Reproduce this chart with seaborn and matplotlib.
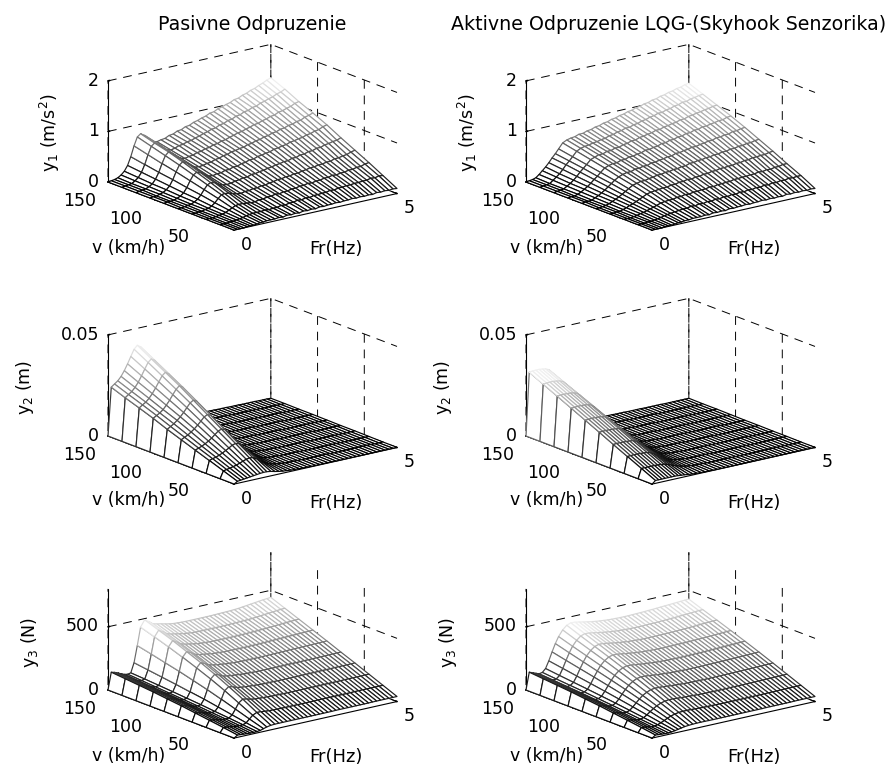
import numpy as np
import matplotlib
matplotlib.use('Agg')
import matplotlib.pyplot as plt
import seaborn as sns
from mpl_toolkits.mplot3d import proj3d

# osi
FR_HZ = [0, .1, .2, .3, .4, .5, .6, .7, .8, .9, 1.0,
         1.125, 1.25, 1.375, 1.5, 1.625, 1.75, 1.875, 2.0,
         2.125, 2.25, 2.375, 2.5, 2.625, 2.75, 2.875, 3.0,
         3.125, 3.25, 3.375, 3.5, 3.625, 3.75, 3.875, 4.0,
         4.125, 4.25, 4.375, 4.5, 4.625, 4.75, 4.875, 5.0]
V_KMH = [150, 135, 120, 105, 90, 75, 60, 45, 30, 15]

# y1 v stotinach m/s2 (riadky = V_KMH, stlpce = FR_HZ)
Y1_PAS = [
    [0, 1, 2, 4, 8, 14, 24, 40, 60, 76, 81, 76, 66, 60, 58, 60, 61, 65, 66, 70, 71, 75, 76, 80, 82, 85, 87, 91, 92, 96, 98, 101, 103, 107, 108, 112, 114, 118, 120, 124, 127, 131, 134],
    [0, 1, 2, 3, 7, 12, 21, 35, 53, 68, 73, 69, 60, 54, 52, 54, 57, 58, 61, 62, 65, 67, 70, 72, 75, 76, 80, 81, 85, 86, 90, 91, 95, 96, 100, 101, 105, 107, 110, 112, 116, 118, 122],
    [0, 1, 2, 3, 6, 10, 18, 30, 46, 60, 66, 61, 53, 48, 46, 48, 49, 52, 53, 56, 57, 60, 61, 64, 65, 68, 70, 73, 74, 77, 79, 82, 83, 86, 88, 91, 92, 96, 97, 100, 102, 106, 108],
    [0, 1, 1, 3, 5, 9, 15, 26, 40, 52, 57, 53, 46, 41, 40, 41, 43, 44, 47, 48, 51, 52, 55, 56, 58, 59, 62, 63, 66, 67, 70, 71, 74, 75, 78, 79, 82, 83, 86, 87, 91, 93, 96],
    [0, 1, 1, 2, 4, 7, 12, 21, 33, 43, 47, 44, 38, 34, 33, 35, 35, 38, 38, 41, 41, 44, 45, 48, 48, 51, 52, 54, 55, 58, 59, 61, 62, 65, 66, 68, 69, 72, 73, 76, 77, 81, 83],
    [0, 0, 1, 2, 3, 6, 10, 17, 26, 34, 37, 35, 30, 27, 26, 27, 29, 30, 32, 32, 35, 35, 37, 38, 40, 41, 43, 44, 46, 46, 49, 49, 52, 52, 55, 55, 58, 58, 61, 62, 64, 65, 68],
    [0, 0, 1, 1, 3, 4, 7, 12, 19, 25, 26, 25, 22, 20, 19, 21, 21, 23, 23, 25, 25, 27, 28, 30, 30, 32, 32, 34, 34, 36, 37, 39, 39, 41, 41, 43, 43, 46, 46, 48, 49, 52, 54],
    [0, 0, 0, 1, 2, 3, 5, 8, 11, 14, 15, 15, 14, 13, 13, 15, 15, 17, 17, 19, 18, 20, 20, 22, 22, 24, 24, 26, 25, 27, 27, 29, 29, 31, 30, 32, 32, 34, 34, 36, 36, 39, 40],
    [0, 0, 0, 1, 1, 2, 3, 4, 6, 7, 8, 8, 8, 9, 8, 9, 9, 11, 10, 12, 12, 14, 13, 15, 14, 16, 16, 17, 17, 19, 18, 20, 20, 21, 21, 22, 22, 23, 23, 25, 24, 26, 25],
    [0, 0, 0, 0, 1, 1, 1, 2, 3, 3, 4, 4, 4, 5, 4, 6, 5, 6, 5, 7, 6, 7, 6, 8, 7, 8, 8, 9, 8, 9, 9, 10, 9, 10, 9, 10, 9, 11, 10, 11, 10, 11, 10],
]
Y1_AKT = [
    [0, 1, 2, 4, 9, 15, 21, 28, 36, 43, 51, 61, 65, 67, 68, 71, 71, 74, 75, 78, 79, 82, 83, 86, 87, 90, 91, 94, 95, 98, 99, 102, 103, 106, 107, 110, 111, 114, 115, 118, 119, 122, 123],
    [0, 1, 2, 3, 8, 13, 18, 25, 33, 39, 46, 55, 59, 61, 62, 64, 65, 67, 68, 71, 72, 75, 76, 79, 79, 82, 83, 86, 87, 90, 91, 94, 94, 97, 98, 101, 102, 105, 105, 108, 109, 111, 112],
    [0, 1, 2, 3, 7, 11, 16, 22, 29, 35, 41, 49, 52, 55, 55, 58, 58, 61, 61, 64, 65, 68, 68, 71, 72, 74, 75, 78, 78, 81, 82, 84, 85, 88, 88, 91, 92, 94, 95, 97, 98, 100, 101],
    [0, 1, 1, 3, 6, 10, 14, 19, 25, 30, 36, 43, 46, 48, 48, 51, 51, 54, 54, 56, 57, 60, 60, 62, 63, 66, 66, 69, 69, 72, 72, 75, 75, 78, 78, 81, 81, 83, 84, 86, 86, 89, 90],
    [0, 1, 1, 2, 5, 8, 12, 16, 21, 26, 31, 36, 39, 41, 41, 44, 44, 46, 46, 49, 49, 51, 52, 54, 54, 57, 57, 59, 60, 62, 62, 64, 65, 67, 67, 70, 70, 72, 72, 75, 75, 77, 78],
    [0, 0, 1, 2, 4, 7, 10, 13, 17, 21, 25, 30, 32, 34, 34, 36, 37, 39, 39, 41, 41, 43, 43, 45, 45, 48, 48, 50, 50, 52, 52, 54, 54, 56, 56, 58, 58, 60, 60, 62, 62, 64, 65],
    [0, 0, 1, 1, 3, 5, 8, 10, 13, 16, 19, 23, 25, 26, 27, 28, 28, 30, 30, 32, 32, 34, 33, 35, 35, 37, 37, 39, 39, 41, 41, 42, 42, 44, 44, 46, 46, 48, 48, 49, 49, 51, 52],
    [0, 0, 0, 1, 2, 4, 5, 7, 9, 11, 13, 16, 17, 18, 18, 20, 20, 22, 21, 23, 23, 24, 24, 26, 25, 27, 27, 28, 28, 30, 30, 31, 31, 32, 32, 34, 33, 35, 34, 36, 36, 38, 38],
    [0, 0, 0, 1, 1, 2, 3, 4, 6, 7, 8, 9, 10, 11, 11, 13, 12, 14, 13, 15, 14, 16, 15, 17, 16, 18, 17, 19, 18, 20, 19, 21, 20, 22, 21, 23, 22, 24, 23, 25, 24, 25, 25],
    [0, 0, 0, 0, 1, 1, 1, 2, 3, 3, 4, 4, 5, 5, 5, 6, 5, 7, 6, 7, 6, 8, 7, 8, 8, 9, 8, 9, 9, 10, 9, 10, 9, 10, 9, 11, 10, 11, 10, 11, 10, 11, 10],
]
# y2 v 1e-4 m
Y2_PAS = [
    [0, 238, 250, 262, 280, 305, 335, 368, 400, 416, 405, 340, 250, 170, 110, 75, 50, 36, 28, 22, 19, 16, 15, 14, 13, 12, 12, 11, 11, 10, 10, 10, 9, 9, 9, 8, 8, 8, 8, 7, 7, 7, 6],
    [0, 212, 224, 235, 252, 274, 302, 332, 361, 375, 365, 306, 225, 153, 99, 68, 45, 33, 26, 20, 17, 15, 14, 13, 12, 12, 11, 11, 10, 10, 9, 9, 9, 8, 8, 8, 8, 7, 7, 7, 6, 6, 6],
    [0, 188, 199, 209, 224, 244, 268, 295, 321, 335, 325, 272, 200, 136, 88, 60, 40, 29, 23, 18, 16, 14, 13, 12, 11, 11, 10, 10, 9, 9, 9, 8, 8, 8, 7, 7, 7, 7, 6, 6, 6, 6, 5],
    [0, 163, 173, 182, 195, 213, 234, 258, 281, 295, 285, 238, 175, 119, 77, 53, 35, 26, 20, 16, 14, 12, 11, 11, 10, 10, 9, 9, 8, 8, 8, 7, 7, 7, 7, 6, 6, 6, 6, 5, 5, 5, 5],
    [0, 135, 145, 155, 168, 182, 200, 220, 240, 250, 242, 202, 148, 101, 66, 45, 30, 22, 17, 14, 12, 11, 10, 9, 9, 8, 8, 8, 7, 7, 7, 6, 6, 6, 6, 6, 5, 5, 5, 5, 5, 4, 4],
    [0, 110, 118, 126, 137, 149, 164, 180, 197, 205, 198, 166, 122, 83, 54, 37, 25, 18, 14, 12, 10, 9, 8, 8, 7, 7, 7, 6, 6, 6, 6, 5, 5, 5, 5, 5, 4, 4, 4, 4, 4, 4, 3],
    [0, 85, 91, 97, 105, 115, 126, 140, 153, 160, 154, 129, 95, 65, 42, 29, 20, 15, 12, 10, 8, 7, 7, 6, 6, 6, 5, 5, 5, 5, 5, 4, 4, 4, 4, 4, 4, 3, 3, 3, 3, 3, 3],
    [0, 60, 65, 69, 75, 82, 91, 100, 110, 115, 111, 93, 68, 47, 31, 22, 15, 11, 9, 8, 6, 6, 5, 5, 5, 4, 4, 4, 4, 4, 3, 3, 3, 3, 3, 3, 3, 3, 2, 2, 2, 2, 2],
    [0, 35, 38, 41, 45, 49, 55, 61, 67, 70, 68, 57, 42, 29, 20, 14, 10, 8, 6, 5, 5, 4, 4, 3, 3, 3, 3, 3, 3, 2, 2, 2, 2, 2, 2, 2, 2, 2, 2, 2, 1, 1, 1],
    [0, 10, 12, 14, 16, 18, 20, 22, 24, 25, 25, 22, 17, 13, 10, 8, 6, 5, 4, 3, 3, 2, 2, 2, 2, 2, 2, 1, 1, 1, 1, 1, 1, 1, 1, 1, 1, 1, 1, 1, 1, 1, 1],
]
Y2_AKT = [
    [0, 312, 314, 315, 315, 313, 310, 303, 285, 255, 215, 160, 115, 80, 55, 38, 27, 20, 16, 13, 12, 11, 10, 10, 9, 9, 9, 8, 8, 8, 8, 7, 7, 7, 7, 7, 6, 6, 6, 6, 6, 6, 6],
    [0, 279, 281, 282, 282, 280, 277, 271, 255, 228, 192, 143, 103, 71, 49, 34, 24, 18, 14, 12, 11, 10, 9, 9, 8, 8, 8, 7, 7, 7, 7, 6, 6, 6, 6, 6, 5, 5, 5, 5, 5, 5, 5],
    [0, 246, 248, 248, 248, 247, 244, 239, 225, 201, 169, 126, 91, 63, 43, 30, 21, 16, 13, 10, 9, 9, 8, 8, 7, 7, 7, 6, 6, 6, 6, 6, 6, 6, 5, 5, 5, 5, 5, 5, 5, 5, 5],
    [0, 213, 214, 215, 215, 214, 212, 207, 195, 174, 147, 109, 79, 55, 38, 26, 18, 14, 11, 9, 8, 8, 7, 7, 6, 6, 6, 5, 5, 5, 5, 5, 5, 5, 5, 5, 4, 4, 4, 4, 4, 4, 4],
    [0, 180, 181, 182, 182, 181, 179, 175, 164, 147, 124, 92, 66, 46, 32, 22, 16, 12, 9, 8, 7, 6, 6, 6, 5, 5, 5, 5, 5, 5, 5, 4, 4, 4, 4, 4, 4, 3, 3, 3, 3, 3, 3],
    [0, 147, 148, 148, 148, 147, 146, 143, 134, 120, 101, 75, 54, 38, 26, 18, 13, 9, 8, 6, 6, 5, 5, 5, 4, 4, 4, 4, 4, 4, 4, 3, 3, 3, 3, 3, 3, 3, 3, 3, 3, 3, 3],
    [0, 113, 114, 114, 114, 113, 112, 110, 103, 92, 78, 58, 42, 29, 20, 14, 10, 7, 6, 5, 4, 4, 4, 4, 3, 3, 3, 3, 3, 3, 3, 3, 3, 3, 3, 3, 2, 2, 2, 2, 2, 2, 2],
    [0, 80, 80, 81, 81, 80, 79, 78, 73, 65, 55, 41, 29, 20, 14, 10, 7, 5, 4, 3, 3, 3, 3, 3, 2, 2, 2, 2, 2, 2, 2, 2, 2, 2, 2, 2, 2, 2, 2, 2, 2, 2, 2],
    [0, 47, 47, 47, 47, 47, 46, 45, 43, 38, 32, 24, 17, 12, 8, 6, 4, 3, 3, 2, 2, 2, 2, 2, 1, 1, 1, 1, 1, 1, 1, 1, 1, 1, 1, 1, 1, 1, 1, 1, 1, 1, 1],
    [0, 14, 14, 14, 14, 14, 14, 14, 13, 11, 10, 7, 5, 4, 3, 2, 2, 1, 1, 1, 1, 1, 1, 1, 1, 1, 1, 1, 1, 1, 1, 1, 1, 1, 1, 1, 1, 1, 1, 1, 1, 1, 1],
]
# y3 v N
Y3_PAS = [
    [0, 135, 128, 118, 105, 95, 90, 95, 170, 300, 440, 490, 470, 445, 436, 430, 422, 415, 410, 408, 406, 405, 405, 405, 405, 405, 405, 405, 406, 407, 408, 409, 410, 412, 414, 418, 422, 426, 430, 434, 438, 441, 444],
    [0, 125, 118, 108, 96, 86, 82, 88, 155, 275, 405, 450, 432, 408, 398, 392, 385, 380, 375, 372, 370, 369, 369, 369, 369, 369, 369, 369, 370, 371, 372, 373, 374, 375, 377, 380, 383, 386, 389, 392, 395, 398, 400],
    [0, 115, 108, 99, 88, 78, 74, 80, 140, 248, 368, 410, 392, 370, 360, 354, 348, 343, 339, 337, 335, 334, 333, 333, 333, 333, 333, 334, 334, 335, 336, 337, 338, 340, 341, 343, 345, 347, 349, 351, 353, 355, 356],
    [0, 105, 98, 90, 80, 70, 66, 72, 125, 222, 328, 365, 350, 330, 320, 315, 310, 305, 302, 300, 298, 297, 297, 296, 296, 296, 296, 297, 297, 298, 299, 300, 301, 302, 303, 304, 305, 306, 307, 308, 309, 310, 312],
    [0, 92, 86, 79, 70, 62, 58, 63, 108, 192, 285, 320, 306, 288, 280, 275, 271, 267, 264, 262, 260, 259, 258, 258, 258, 258, 258, 259, 259, 260, 261, 261, 262, 263, 263, 264, 264, 265, 265, 266, 266, 267, 268],
    [0, 80, 74, 68, 60, 53, 50, 54, 92, 162, 240, 270, 258, 242, 235, 231, 228, 225, 222, 220, 219, 218, 217, 217, 217, 217, 217, 217, 217, 218, 218, 218, 218, 219, 219, 219, 220, 220, 220, 221, 221, 222, 222],
    [0, 65, 60, 55, 48, 42, 40, 43, 72, 128, 190, 215, 206, 194, 188, 185, 182, 180, 178, 176, 175, 175, 175, 174, 174, 174, 174, 174, 174, 175, 175, 175, 175, 176, 176, 176, 176, 177, 177, 177, 177, 178, 178],
    [0, 50, 46, 42, 37, 33, 31, 33, 52, 92, 135, 158, 152, 143, 138, 136, 134, 133, 131, 130, 130, 129, 129, 129, 129, 129, 129, 129, 129, 129, 129, 130, 130, 130, 130, 130, 131, 131, 131, 131, 131, 132, 132],
    [0, 35, 32, 29, 25, 22, 21, 22, 32, 56, 80, 95, 94, 90, 87, 86, 85, 85, 84, 84, 84, 84, 84, 84, 84, 84, 85, 85, 85, 85, 85, 85, 85, 85, 85, 86, 86, 86, 86, 86, 86, 86, 86],
    [0, 18, 16, 14, 12, 11, 10, 11, 14, 22, 30, 36, 38, 38, 38, 38, 38, 38, 38, 38, 38, 38, 38, 38, 38, 38, 38, 39, 39, 39, 39, 39, 39, 39, 39, 39, 40, 40, 40, 40, 40, 40, 40],
]
Y3_AKT = [
    [0, 135, 125, 115, 105, 110, 135, 190, 255, 315, 365, 410, 440, 452, 450, 444, 437, 431, 425, 420, 416, 413, 410, 408, 407, 406, 406, 406, 407, 408, 409, 410, 412, 413, 415, 417, 419, 421, 423, 425, 427, 429, 430],
    [0, 125, 116, 106, 97, 100, 122, 172, 230, 284, 330, 370, 397, 408, 406, 401, 395, 389, 384, 380, 376, 373, 371, 369, 368, 367, 367, 367, 368, 369, 369, 370, 372, 373, 375, 376, 378, 380, 382, 384, 386, 388, 389],
    [0, 115, 106, 97, 88, 91, 110, 154, 206, 254, 296, 332, 356, 366, 365, 360, 354, 349, 344, 341, 337, 335, 333, 331, 330, 330, 330, 330, 331, 331, 332, 333, 334, 335, 336, 338, 339, 341, 343, 345, 346, 348, 349],
    [0, 105, 97, 88, 80, 82, 98, 136, 182, 224, 262, 294, 315, 324, 323, 318, 313, 309, 305, 301, 298, 296, 294, 293, 292, 291, 291, 292, 292, 293, 293, 294, 295, 296, 297, 298, 299, 301, 302, 304, 305, 307, 308],
    [0, 92, 85, 78, 70, 71, 85, 118, 157, 194, 226, 254, 272, 280, 279, 275, 271, 267, 264, 261, 258, 256, 255, 253, 253, 252, 252, 252, 253, 253, 254, 254, 255, 256, 257, 258, 259, 260, 261, 262, 263, 265, 266],
    [0, 80, 74, 67, 60, 60, 72, 99, 132, 163, 190, 213, 229, 235, 234, 231, 227, 224, 221, 219, 217, 215, 214, 213, 212, 212, 212, 212, 212, 213, 213, 214, 214, 215, 216, 216, 217, 218, 219, 220, 221, 222, 223],
    [0, 65, 60, 54, 48, 48, 57, 79, 105, 130, 152, 170, 183, 188, 187, 185, 182, 179, 177, 175, 173, 172, 171, 170, 170, 169, 169, 169, 170, 170, 170, 171, 171, 172, 172, 173, 173, 174, 175, 175, 176, 177, 178],
    [0, 50, 46, 41, 36, 36, 42, 58, 78, 96, 112, 126, 135, 139, 138, 136, 134, 132, 131, 129, 128, 127, 126, 126, 125, 125, 125, 125, 126, 126, 126, 126, 127, 127, 127, 128, 128, 129, 129, 130, 130, 131, 132],
    [0, 35, 32, 28, 24, 24, 28, 38, 50, 62, 73, 82, 88, 90, 90, 89, 87, 86, 85, 84, 84, 83, 83, 82, 82, 82, 82, 82, 82, 83, 83, 83, 83, 83, 84, 84, 84, 85, 85, 85, 86, 86, 86],
    [0, 18, 16, 14, 12, 12, 14, 18, 23, 28, 33, 36, 38, 39, 39, 39, 38, 38, 38, 38, 38, 38, 38, 38, 38, 38, 38, 38, 38, 38, 39, 39, 39, 39, 39, 39, 39, 40, 40, 40, 40, 40, 40],
]

TITLES = ['Pasivne Odpruzenie', 'Aktivne Odpruzenie LQG-(Skyhook Senzorika)']
YLABELS = [r'$\mathregular{y_1}$ (m/s$\mathregular{^2}$)', r'$\mathregular{y_2}$ (m)', r'$\mathregular{y_3}$ (N)']

W, H = 893, 766
sns.set_theme(style='ticks', rc={
    'grid.color': 'black', 'grid.linewidth': 0.7, 'grid.linestyle': (0, (9, 7)),
    'axes.edgecolor': 'black', 'xtick.color': 'black', 'ytick.color': 'black',
    'text.color': 'black', 'axes.labelcolor': 'black',
    'xtick.labelsize': 12.5, 'ytick.labelsize': 12.5,
})
plt.rcParams['font.family'] = ['DejaVu Sans']
GRAY = sns.color_palette('gray', as_cmap=True)

fig = plt.figure(figsize=(W / 100, H / 100), dpi=100)


def to_px(ax, x, y, z):
    xs, ys, _ = proj3d.proj_transform(x, y, z, ax.get_proj())
    return ax.transData.transform((xs, ys))


def place(ax, x0, y0, span=289):
    # roh (Fr=0, v=150, z=0) ide na pixel x0,y0 (y zhora)
    side = 400
    ax.set_position([0.2, 0.2, side / W, side / H])
    ax.apply_aspect()
    got = to_px(ax, 5, 15, 0)[0] - to_px(ax, 0, 150, 0)[0]
    side = side * span / got
    ax.set_position([0.2, 0.2, side / W, side / H])
    ax.apply_aspect()
    p = to_px(ax, 0, 150, 0)
    l = 0.2 + (x0 - p[0]) / W
    b = 0.2 + (H - y0 - p[1]) / H
    ax.set_position([l, b, side / W, side / H])
    ax.apply_aspect()


def panel(ax, z, zmax, zticks, zlabels, x0, y0):
    z = np.array(z, dtype=float)
    fr, v = np.meshgrid(FR_HZ, V_KMH)
    ax.set_proj_type('ortho')
    ax.view_init(elev=17, azim=-127.5)
    ax.set_box_aspect((205, 207, 105.6))
    ax.set_xlim(0, 5)
    ax.set_ylim(15, 150)
    ax.set_zlim(0, zmax)
    place(ax, x0, y0)

    # farba hrany podla vysky, ako mesh s colormap gray
    cell = (z[:-1, :-1] + z[1:, :-1] + z[:-1, 1:] + z[1:, 1:]) / 4
    edges = GRAY((cell / z.max()).ravel() ** 1.15)
    ax.plot_surface(fr, v, z, rstride=1, cstride=1, color='white', shade=False,
                    edgecolors=edges, linewidth=0.85)

    ax.set_xticks([0, 5])
    ax.set_yticks([50, 100, 150])
    ax.set_zticks(zticks)
    ax.set_zticklabels(zlabels)
    ax.tick_params(axis='x', pad=3)
    ax.tick_params(axis='y', pad=0.5)
    ax.tick_params(axis='z', pad=-4.5)
    for t in ax.xaxis.get_major_ticks():
        t.label1.set_va('center')
    for t in ax.yaxis.get_major_ticks():
        t.label1.set_ha('right')
    for t in ax.zaxis.get_major_ticks():
        t.label1.set_ha('right')
        t.label1.set_va('center')
    for a in (ax.xaxis, ax.yaxis, ax.zaxis):
        a.set_pane_color((1, 1, 1, 0))
        a.pane.set_edgecolor('none')
        a.line.set_color('black')
        a.line.set_linewidth(0.8)
        a._axinfo['tick']['inward_factor'] = 0.0
        a._axinfo['tick']['outward_factor'] = 0.12
    ax.set_facecolor('none')


# riadky: (data pas, data akt, jednotka, zmax, ticky, popisy tickov, y rohu)
rows = [
    (Y1_PAS, Y1_AKT, 0.01, 2, [0, 1, 2], ['0', '1', '2'], 182),
    (Y2_PAS, Y2_AKT, 1e-4, 0.05, [0, 0.05], ['0', '0.05'], 436),
    (Y3_PAS, Y3_AKT, 1.0, 800, [0, 500], ['0', '500'], 690),
]

for i, (pas, akt, unit, zmax, zt, zl, y0) in enumerate(rows):
    ax = fig.add_subplot(3, 2, 2 * i + 1, projection='3d')
    panel(ax, np.array(pas) * unit, zmax, zt, zl, 108, y0)
    ax = fig.add_subplot(3, 2, 2 * i + 2, projection='3d')
    panel(ax, np.array(akt) * unit, zmax, zt, zl, 526, y0)


def label(x, y, s, **kw):
    fig.text(x / W, 1 - y / H, s, ha='center', va='center', **kw)


label(252, 24, TITLES[0], fontsize=13.7)
label(669, 24, TITLES[1], fontsize=13.7)
for dx in (0, 418):
    for y_v, y_f in ((248, 249), (500, 503), (756, 757)):
        label(129 + dx, y_v, 'v (km/h)', fontsize=12.5)
        label(336 + dx, y_f, 'Fr(Hz)', fontsize=13)
    label(50 + dx, 133, YLABELS[0], fontsize=12.5, rotation=90)
    label(25 + dx, 387, YLABELS[1], fontsize=12.5, rotation=90)
    label(30 + dx, 642, YLABELS[2], fontsize=12.5, rotation=90)

fig.savefig('out.png', dpi=100)
